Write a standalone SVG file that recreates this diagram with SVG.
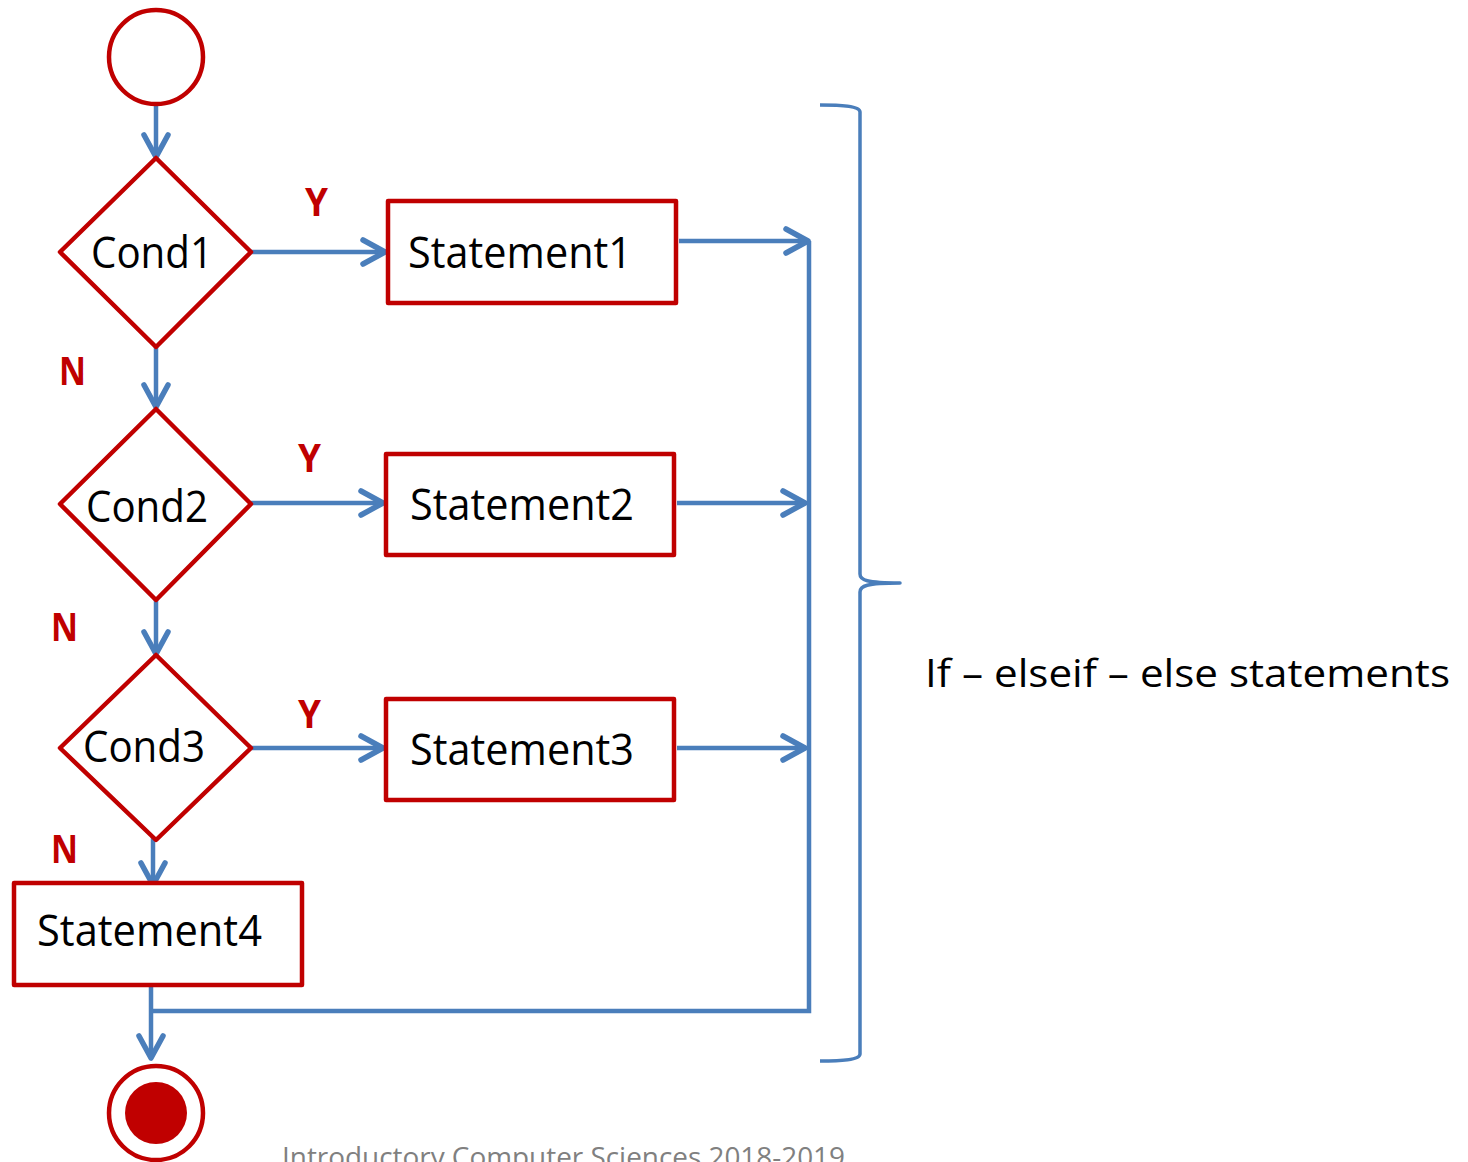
<svg xmlns="http://www.w3.org/2000/svg" width="1468" height="1162" viewBox="0 0 1468 1162">
<defs>
<style>
.node{fill:#fff;stroke:#C00000;stroke-width:4.5;stroke-linejoin:round}
.lbl{font-family:"Open Sans","Liberation Sans",sans-serif;font-size:43px;fill:#000}
.yn{font-family:"Open Sans","Liberation Sans",sans-serif;font-size:40px;font-weight:bold;fill:#C00000}
.conn{fill:none;stroke:#4A7EBB;stroke-width:4.5}
.arr{marker-end:url(#ah)}
.brace{fill:none;stroke:#4A7EBB;stroke-width:3.5;stroke-linejoin:round}
</style>
<marker id="ah" markerUnits="userSpaceOnUse" viewBox="-28 -16 32 32" markerWidth="32" markerHeight="32" refX="0" refY="0" orient="auto" overflow="visible">
<path d="M-22,-12 L0,0 L-22,12" fill="none" stroke="#4A7EBB" stroke-width="5.5" stroke-linecap="round" stroke-linejoin="round"/>
</marker>
</defs>
<rect width="1468" height="1162" fill="#fff"/>

<g id="connectors">
<path class="conn arr" d="M156,106 L156,157"/>
<path class="conn arr" d="M251,252 L385,252"/>
<path class="conn arr" d="M156,347 L156,407"/>
<path class="conn arr" d="M251,503 L383,503"/>
<path class="conn arr" d="M156,600 L156,654"/>
<path class="conn arr" d="M251,748 L383,748"/>
<path class="conn arr" d="M153,835 L153,885"/>
<path class="conn arr" d="M151,987 L151,1058"/>
<path class="conn arr" d="M679,241 L808,241"/>
<path class="conn arr" d="M677,503 L805,503"/>
<path class="conn arr" d="M677,748 L805,748"/>
<path class="conn" d="M809,241 L809,1011 L151,1011"/>
</g>

<g id="start"><circle class="node" cx="156" cy="57" r="47"/></g>

<g id="cond1">
<polygon class="node" points="156,158 251,252 156,347 60,252"/>
<text class="lbl" x="91" y="268" textLength="122" lengthAdjust="spacingAndGlyphs">Cond1</text>
</g>
<g id="cond2">
<polygon class="node" points="156,409 251,504 156,600 60,504"/>
<text class="lbl" x="86" y="522" textLength="122" lengthAdjust="spacingAndGlyphs">Cond2</text>
</g>
<g id="cond3">
<polygon class="node" points="156,655 251,748 156,840 60,748"/>
<text class="lbl" x="83" y="762" textLength="122" lengthAdjust="spacingAndGlyphs">Cond3</text>
</g>

<g id="statement1">
<rect class="node" x="388" y="201" width="288" height="102"/>
<text class="lbl" x="408" y="268" textLength="224" lengthAdjust="spacingAndGlyphs">Statement1</text>
</g>
<g id="statement2">
<rect class="node" x="386" y="454" width="288" height="101"/>
<text class="lbl" x="410" y="520" textLength="224" lengthAdjust="spacingAndGlyphs">Statement2</text>
</g>
<g id="statement3">
<rect class="node" x="386" y="699" width="288" height="101"/>
<text class="lbl" x="410" y="765" textLength="224" lengthAdjust="spacingAndGlyphs">Statement3</text>
</g>
<g id="statement4">
<rect class="node" x="14" y="883" width="288" height="102"/>
<text class="lbl" x="37" y="946" textLength="225" lengthAdjust="spacingAndGlyphs">Statement4</text>
</g>

<g id="end">
<circle class="node" cx="156" cy="1113" r="47"/>
<circle cx="156" cy="1113" r="31" fill="#C00000"/>
</g>

<g id="labels">
<text class="yn" x="305" y="216" textLength="23" lengthAdjust="spacingAndGlyphs">Y</text>
<text class="yn" x="298" y="472" textLength="23" lengthAdjust="spacingAndGlyphs">Y</text>
<text class="yn" x="298" y="728" textLength="23" lengthAdjust="spacingAndGlyphs">Y</text>
<text class="yn" x="59" y="385" textLength="27" lengthAdjust="spacingAndGlyphs">N</text>
<text class="yn" x="51" y="641" textLength="27" lengthAdjust="spacingAndGlyphs">N</text>
<text class="yn" x="51" y="863" textLength="27" lengthAdjust="spacingAndGlyphs">N</text>
</g>

<g id="brace">
<path class="brace" d="M820,105 C840,105 860,106 860,112 L860,574 C860,580 866,583 900,583 C866,583 860,586 860,592 L860,1054 C860,1060 840,1061 820,1061"/>
</g>

<g id="caption">
<text x="925" y="687" font-family="'Open Sans','Liberation Sans',sans-serif" font-size="38" fill="#000" textLength="525" lengthAdjust="spacingAndGlyphs">If – elseif – else statements</text>
</g>
<g id="footer">
<text x="282" y="1167" font-family="'Open Sans','Liberation Sans',sans-serif" font-size="28" fill="#808080" textLength="563" lengthAdjust="spacingAndGlyphs">Introductory Computer Sciences 2018-2019</text>
</g>
</svg>
